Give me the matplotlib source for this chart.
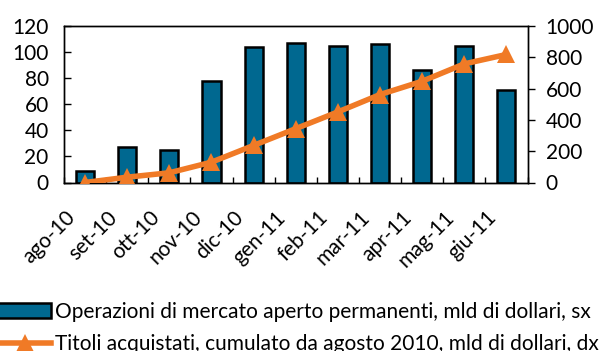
import matplotlib
matplotlib.use("Agg")
import matplotlib.pyplot as plt
from matplotlib.transforms import ScaledTranslation
import numpy as np

plt.rcParams['font.family'] = ['Lato', 'DejaVu Sans']

months = ['ago-10', 'set-10', 'ott-10', 'nov-10', 'dic-10', 'gen-11',
          'feb-11', 'mar-11', 'apr-11', 'mag-11', 'giu-11']
operazioni = [9, 27, 25, 78, 104, 107, 105, 106, 86, 105, 71]
titoli_cumulati = [0, 34, 62, 130, 237, 344, 451, 562, 647, 758, 818]
left_ticks = [0, 20, 40, 60, 80, 100, 120]
right_ticks = [0, 200, 400, 600, 800, 1000]

BLUE = '#006890'
ORANGE = '#F07A26'
FS = 15

fig = plt.figure(figsize=(6.11, 3.51), dpi=100)
ax = fig.add_axes([64 / 611, 1 - 182.5 / 351, (527.5 - 64) / 611, (182.5 - 26) / 351])
ax2 = ax.twinx()

x = np.arange(len(months))
bars = ax.bar(x, operazioni, width=0.43, color=BLUE, edgecolor='black',
              linewidth=1.8, zorder=2,
              label='Operazioni di mercato aperto permanenti, mld di dollari, sx')
line, = ax2.plot(x, titoli_cumulati, color=ORANGE, linewidth=4, marker='^',
                 markersize=13, markeredgewidth=0, zorder=3,
                 label='Titoli acquistati, cumulato da agosto 2010, mld di dollari, dx')
ax2.set_zorder(ax.get_zorder() + 1)
ax.patch.set_visible(False)

ax.set_xlim(-0.5, len(months) - 0.5)
ax.set_ylim(0, 120)
ax2.set_ylim(0, 1000)
ax.set_yticks(left_ticks)
ax2.set_yticks(right_ticks)
ax.tick_params(axis='y', direction='in', length=5, width=1, labelsize=FS, pad=11)
ax2.tick_params(axis='y', direction='out', length=5, width=1, labelsize=FS, pad=8)

# category boundaries as minor ticks, labels on major ticks
ax.set_xticks(x)
ax.set_xticks(np.arange(len(months) + 1) - 0.5, minor=True)
ax.tick_params(axis='x', which='major', length=0, labelsize=FS, pad=0)
ax.tick_params(axis='x', which='minor', direction='in', length=4, width=1)
ax.set_xticklabels(months, rotation=45, ha='right', va='center',
                   rotation_mode='anchor')
offset = ScaledTranslation(-13 / 100, -32 / 100, fig.dpi_scale_trans)
for lab in ax.get_xticklabels():
    lab.set_transform(lab.get_transform() + offset)

for a in (ax, ax2):
    for s in a.spines.values():
        s.set_linewidth(1)
        s.set_color('black')

fig.legend(handles=[bars, line], loc='upper left', bbox_to_anchor=(-0.003, 0.14),
           frameon=False, fontsize=FS, handlelength=2.55, handletextpad=0.2,
           labelspacing=0.6, borderaxespad=0, borderpad=0)

fig.savefig('out.png', dpi=100)
